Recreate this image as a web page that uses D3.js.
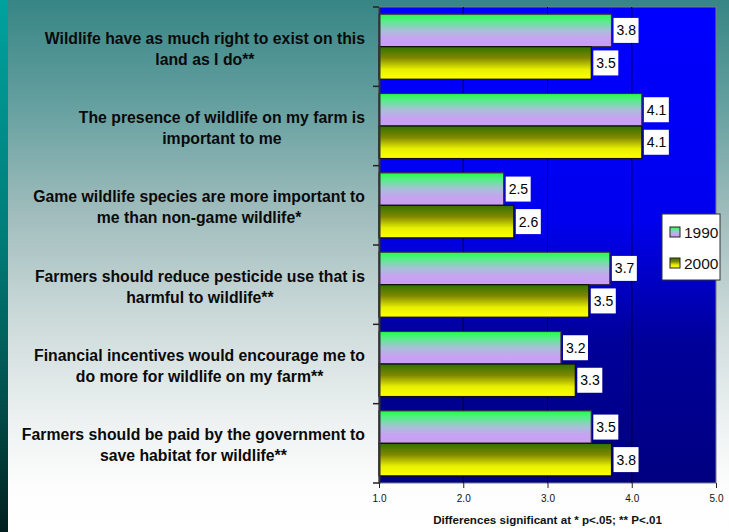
<!DOCTYPE html>
<html>
<head>
<meta charset="utf-8">
<script src="https://cdn.jsdelivr.net/npm/d3@7"></script>
<style>
  html, body { margin: 0; padding: 0; }
  body { width: 729px; height: 532px; overflow: hidden; }
  text { font-family: "Liberation Sans", Arial, sans-serif; }
</style>
</head>
<body>
<div id="container"></div>
<script>
// statements (each one is split into its two printed lines)
const statements = [
    ['Wildlife have as much right to exist on this', 'land as I do**'],
    ['The presence of wildlife on my farm is', 'important to me'],
    ['Game wildlife species are more important to', 'me than non-game wildlife*'],
    ['Farmers should reduce pesticide use that is', 'harmful to wildlife**'],
    ['Financial incentives would encourage me to', 'do more for wildlife on my farm**'],
    ['Farmers should be paid by the government to', 'save habitat for wildlife**']
]
const seriesNames = ['1990', '2000']
const values1990 = [3.76, 4.12, 2.48, 3.74, 3.16, 3.52]
const values2000 = [3.52, 4.12, 2.60, 3.49, 3.33, 3.76]
const xTicks = [1, 2, 3, 4, 5]
const axisTitle = 'Differences significant at * p<.05; ** P<.01'

const width = 729
const height = 532
const margin = { top: 7, right: 13, bottom: 49, left: 379 }

const svg = d3.select('#container').append('svg')
    .attr('width', width).attr('height', height)

const defs = svg.append('defs')
const lin = (id, stops) => {
    const g = defs.append('linearGradient').attr('id', id)
        .attr('x1', 0).attr('y1', 0).attr('x2', 0).attr('y2', 1)
    stops.forEach(s => g.append('stop').attr('offset', s[0]).attr('stop-color', s[1]))
}
lin('bg', [[0, '#378585'], [0.2, '#66a0a0'], [0.4, '#a0bcbc'], [0.6, '#cddada'], [0.8, '#eef2f2'], [0.92, '#fdfdfd'], [1, '#ffffff']])
lin('strip', [[0, '#00a29e'], [0.45, '#007c78'], [0.75, '#02504c'], [1, '#021f1e']])
lin('plotbg', [[0, '#0000ff'], [0.45, '#0000ee'], [0.7, '#00009a'], [1, '#000080']])
lin('g1990', [[0, '#22ff44'], [0.2, '#55ee88'], [0.5, '#a8c0d8'], [0.75, '#c8a2f2'], [1, '#c89ef4']])
lin('g2000', [[0, '#307000'], [0.35, '#808800'], [0.7, '#e8f000'], [1, '#ffff00']])

// background
svg.append('rect').attr('width', width).attr('height', height).attr('fill', 'url(#bg)')
svg.append('rect').attr('width', 8).attr('height', height).attr('fill', 'url(#strip)')

const xScale = d3.scaleLinear()
    .domain([1, 5])
    .range([margin.left, width - margin.right])

const yScale = d3.scaleBand()
    .domain(d3.range(statements.length))
    .range([margin.top, height - margin.bottom])

const pad = yScale.bandwidth() * 0.09
const ySub = d3.scaleBand()
    .domain(seriesNames)
    .range([pad, yScale.bandwidth() - pad])

// plot area
svg.append('rect')
    .attr('x', xScale(1)).attr('y', margin.top)
    .attr('width', xScale(5) - xScale(1))
    .attr('height', height - margin.bottom - margin.top)
    .attr('fill', 'url(#plotbg)')
    .attr('stroke', '#7a7a8a')

// gridlines
svg.selectAll('.grid').data(xTicks.slice(1, -1)).enter().append('line')
    .attr('x1', d => xScale(d)).attr('x2', d => xScale(d))
    .attr('y1', margin.top).attr('y2', height - margin.bottom)
    .attr('stroke', '#000').attr('stroke-width', 1)

// bars
const rows = statements.map((s, i) => [
    { key: '1990', i, v: values1990[i] },
    { key: '2000', i, v: values2000[i] }
])
const groups = svg.selectAll('.row').data(rows).enter().append('g')
    .attr('transform', (d, i) => `translate(0, ${yScale(i)})`)

groups.selectAll('rect.bar').data(d => d).enter().append('rect')
    .attr('class', 'bar')
    .attr('x', xScale(1))
    .attr('y', d => ySub(d.key))
    .attr('width', d => xScale(d.v) - xScale(1))
    .attr('height', ySub.bandwidth())
    .attr('fill', d => d.key === '1990' ? 'url(#g1990)' : 'url(#g2000)')
    .attr('stroke', d => d.key === '1990' ? '#3a2a40' : '#101000')
    .attr('stroke-width', 1.2)

// value labels
const lab = groups.selectAll('g.lab').data(d => d).enter().append('g')
    .attr('transform', d => `translate(${xScale(d.v) + 2}, ${ySub(d.key) + ySub.bandwidth() / 2})`)
lab.append('rect')
    .attr('x', 0).attr('y', -12.5).attr('width', 25).attr('height', 25)
    .attr('fill', '#fff')
lab.append('text')
    .attr('x', 3).attr('y', 5)
    .attr('font-size', 14)
    .attr('fill', '#000')
    .text(d => d.v.toFixed(1))

// y axis
const yAxis = d3.axisLeft(yScale).tickValues([]).tickSizeOuter(0)
const yg = svg.append('g')
    .attr('transform', `translate(${margin.left}, 0)`)
    .call(yAxis)
yg.select('.domain').attr('stroke', '#333').attr('stroke-width', 2)
const bounds = d3.range(statements.length + 1).map(i => margin.top + i * yScale.step())
yg.selectAll('.bt').data(bounds).enter().append('line')
    .attr('x1', -6).attr('x2', 0).attr('y1', d => d).attr('y2', d => d)
    .attr('stroke', '#222').attr('stroke-width', 1.5)

// category labels (centered lines, right aligned block)
statements.forEach((lines, i) => {
    const cy = yScale(i) + yScale.bandwidth() / 2
    const t = svg.append('text')
        .attr('font-size', 15.8).attr('font-weight', 'bold')
        .attr('fill', '#0a0a0a').attr('text-anchor', 'middle')
    lines.forEach((l, j) => {
        t.append('tspan').attr('y', cy - 3 + j * 21).text(l)
    })
    let w = 0
    t.selectAll('tspan').each(function () { w = Math.max(w, this.getComputedTextLength()) })
    t.selectAll('tspan').attr('x', 365 - w / 2)
})

// x axis
const xAxis = d3.axisBottom(xScale).tickValues(xTicks).tickFormat(d3.format('.1f'))
    .tickSize(5).tickSizeOuter(0)
const xg = svg.append('g')
    .attr('transform', `translate(0, ${height - margin.bottom})`)
    .call(xAxis)
xg.select('.domain').remove()
xg.selectAll('.tick line').attr('stroke', '#222')
xg.selectAll('.tick text').attr('font-size', 10).attr('fill', '#111').attr('dy', '1.05em')
    .style('font-family', '"Liberation Sans", Arial, sans-serif')

svg.append('text')
    .attr('x', (xScale(1) + xScale(5)) / 2).attr('y', 524)
    .attr('text-anchor', 'middle')
    .attr('font-size', 11.6).attr('font-weight', 'bold').attr('fill', '#111')
    .text(axisTitle)

// legend
const legend = svg.append('g').attr('transform', 'translate(662, 214)')
legend.append('rect').attr('width', 58).attr('height', 66).attr('fill', '#fff').attr('stroke', '#333')
seriesNames.forEach((s, i) => {
    legend.append('rect')
        .attr('x', 8).attr('y', 13 + i * 31).attr('width', 10).attr('height', 10)
        .attr('fill', i === 0 ? 'url(#g1990)' : 'url(#g2000)')
        .attr('stroke', '#222')
    legend.append('text')
        .attr('x', 22).attr('y', 24 + i * 31)
        .attr('font-size', 15.5).attr('fill', '#111')
        .text(s)
})
</script>
</body>
</html>
